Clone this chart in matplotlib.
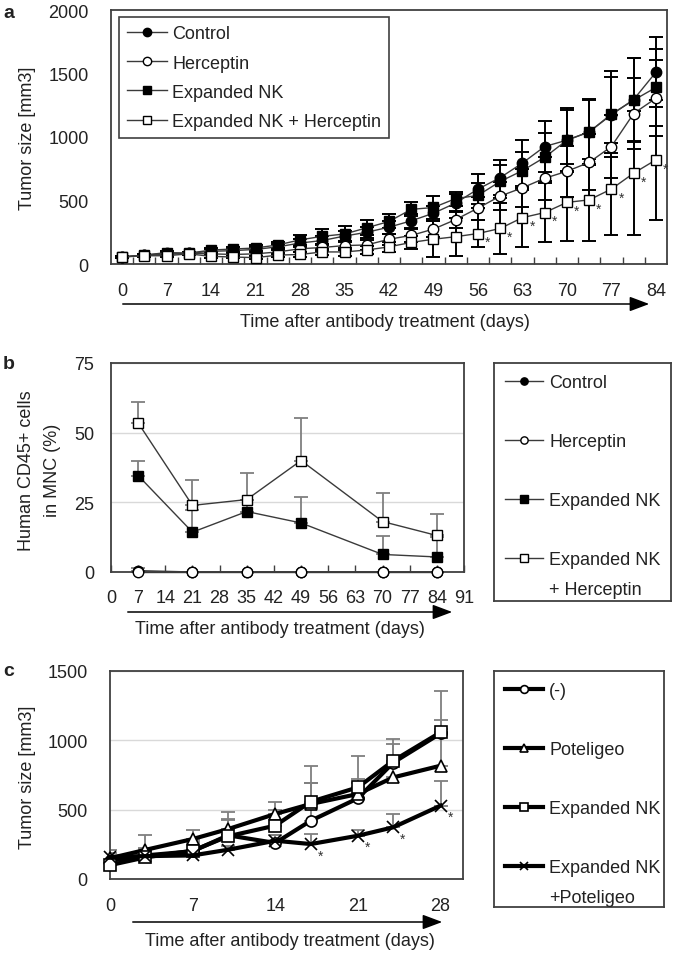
import numpy as np
import matplotlib
matplotlib.use('Agg')
import matplotlib.pyplot as plt

plt.rcParams['font.family'] = ['Liberation Sans', 'DejaVu Sans']
plt.rcParams['font.size'] = 13
plt.rcParams['text.color'] = '#222222'
plt.rcParams['xtick.color'] = '#222222'
plt.rcParams['ytick.color'] = '#222222'
plt.rcParams['axes.labelcolor'] = '#222222'

# ---- panel a: tumor size, Herceptin study ----
days_a = [0, 3.5, 7, 10.5, 14, 17.5, 21, 24.5, 28, 31.5, 35, 38.5, 42, 45.5,
          49, 52.5, 56, 59.5, 63, 66.5, 70, 73.5, 77, 80.5, 84]
ctrl_a = [55, 70, 90, 85, 100, 105, 115, 135, 165, 185, 220, 250, 290, 340,
          400, 480, 590, 680, 795, 925, 975, 1040, 1175, 1295, 1510]
herc_a = [55, 70, 75, 85, 80, 75, 80, 95, 120, 130, 145, 150, 195, 225,
          275, 350, 440, 535, 600, 675, 730, 800, 925, 1185, 1305]
nk_a = [55, 70, 85, 85, 110, 118, 126, 150, 190, 218, 236, 285, 335, 430,
        445, 515, 540, 650, 735, 840, 975, 1040, 1180, 1290, 1390]
nkh_a = [55, 65, 65, 80, 60, 55, 50, 70, 75, 95, 95, 110, 135, 170,
         195, 215, 240, 280, 365, 405, 485, 505, 590, 715, 820]
ctrl_err_a = [10, 10, 10, 10, 15, 15, 20, 25, 30, 35, 40, 45, 50, 55,
              60, 70, 120, 140, 180, 200, 250, 260, 300, 330, 275]
herc_err_a = [10, 10, 10, 10, 10, 10, 15, 20, 25, 30, 35, 40, 45, 50,
              60, 70, 90, 110, 150, 170, 200, 220, 250, 280, 300]
nk_err_a = [10, 10, 10, 10, 15, 15, 20, 25, 40, 60, 65, 60, 55, 55,
            90, 55, 100, 130, 150, 190, 240, 250, 340, 330, 300]
nkh_err_a = [10, 10, 10, 10, 10, 10, 10, 15, 20, 25, 30, 35, 40, 50,
             140, 150, 110, 200, 230, 230, 300, 320, 360, 490, 470]
star_days_a = [56, 59.5, 63, 66.5, 70, 73.5, 77, 80.5, 84]
labels_a = ['Control', 'Herceptin', 'Expanded NK', 'Expanded NK + Herceptin']

# ---- panel b: human CD45+ cells ----
days_b = [7, 21, 35, 49, 70, 84]
ctrl_b = [0.5, 0, 0, 0, 0, 0]
herc_b = [0, 0, 0, 0, 0, 0]
nk_b = [34.6, 14.3, 21.7, 17.6, 6.3, 5.4]
nkh_b = [53.5, 23.9, 26.0, 40.0, 18.1, 13.1]
ctrl_err_b = [1.0, 0, 0, 0, 0, 0]
herc_err_b = [0, 0, 0, 0, 0, 0]
nk_err_b = [5.2, 8, 4, 9.4, 6.5, 7]
nkh_err_b = [7.4, 9, 9.6, 15.3, 10.2, 7.8]
labels_b = ['Control', 'Herceptin', 'Expanded NK', 'Expanded NK']

# ---- panel c: tumor size, Poteligeo study ----
days_c = [0, 3, 7, 10, 14, 17, 21, 24, 28]
neg_c = [130, 170, 200, 315, 260, 420, 582, 840, 1050]
pot_c = [150, 210, 288, 360, 469, 541, 613, 733, 817]
nk_c = [100, 156, 204, 308, 385, 557, 661, 853, 1058]
nkp_c = [160, 165, 170, 211, 276, 252, 312, 373, 529]
neg_err_c = [30, 50, 60, 110, 60, 272, 140, 130, 30]
pot_err_c = [40, 107, 68, 125, 88, 150, 80, 100, 330]
nk_err_c = [30, 60, 70, 125, 110, 260, 224, 156, 300]
nkp_err_c = [50, 40, 40, 30, 40, 72, 44, 96, 180]
star_days_c = [17, 21, 24, 28]
labels_c = ['(-)', 'Poteligeo', 'Expanded NK', 'Expanded NK']

W, H = 675, 954
fig = plt.figure(figsize=(W / 100, H / 100), dpi=100)
SP = '#404040'


def px_axes(l, t, r, b):
    return fig.add_axes([l / W, 1 - b / H, (r - l) / W, (b - t) / H])


def frame(ax):
    for s in ax.spines.values():
        s.set_color(SP)
        s.set_linewidth(1.3)


def arrow(x0, x1, y):
    fig.add_artist(matplotlib.patches.FancyArrowPatch(
        (x0 / W, 1 - y / H), (x1 / W, 1 - y / H), transform=fig.transFigure,
        arrowstyle='-|>,head_length=0.8,head_width=0.3', mutation_scale=15,
        color='black', lw=1.1))


# ================= panel a =================
ax = px_axes(111, 11, 667, 265)
frame(ax)
series_a = [(ctrl_a, ctrl_err_a, 'o', 'black'), (herc_a, herc_err_a, 'o', 'white'),
            (nk_a, nk_err_a, 's', 'black'), (nkh_a, nkh_err_a, 's', 'white')]
for vals, err, mk, fc in series_a:
    ax.errorbar(days_a, vals, yerr=err, fmt='none', ecolor='black',
                elinewidth=1.4, capsize=5, capthick=1.4, zorder=2)
for (vals, err, mk, fc), lab in zip(series_a, labels_a):
    ax.plot(days_a, vals, color='#3a3a3a', lw=1, marker=mk, ms=7.5,
            mfc=fc, mec='black', mew=1, zorder=3, label=lab)
for d in star_days_a:
    ax.annotate('*', xy=(d, nkh_a[days_a.index(d)]), xytext=(5, -9),
                textcoords='offset points', fontsize=10, color='#333333')
ax.set_xlim(-1.75, 85.75)
ax.set_ylim(0, 2000)
ax.set_xticks(range(0, 85, 7))
mids = [(days_a[i] + days_a[i + 1]) / 2 for i in range(len(days_a) - 1)]
ax.set_xticks(mids, minor=True)
ax.set_yticks(range(0, 2001, 500))
ax.tick_params(axis='x', which='major', length=0, pad=13)
ax.tick_params(axis='x', which='minor', direction='in', length=5, width=1, color=SP)
ax.tick_params(axis='y', length=0, pad=16)
ax.set_ylabel('Tumor size [mm3]')
ax.yaxis.set_label_coords(-0.135, 0.5)
leg = ax.legend(loc='upper left', bbox_to_anchor=(0.0144, 0.972), borderaxespad=0,
                fancybox=False, edgecolor=SP, framealpha=1, labelspacing=0.68,
                handlelength=2.2, handletextpad=0.3, borderpad=0.45, markerscale=0.8)
leg.get_frame().set_linewidth(1.2)
arrow(120, 652, 305)
fig.text(385 / W, 1 - 323 / H, 'Time after antibody treatment (days)', ha='center', va='center')
fig.text(9 / W, 1 - 13 / H, 'a', fontweight='bold', fontsize=14, ha='center', va='center')

# ================= panel b =================
ax = px_axes(111, 364, 464, 573)
frame(ax)
ax.yaxis.grid(True, color='#d9d9d9', lw=1)
ax.set_axisbelow(True)
series_b = [(ctrl_b, ctrl_err_b, 'o', 'black'), (herc_b, herc_err_b, 'o', 'white'),
            (nk_b, nk_err_b, 's', 'black'), (nkh_b, nkh_err_b, 's', 'white')]
handles_b = []
for vals, err, mk, fc in series_b:
    ax.errorbar(days_b, vals, yerr=[np.zeros(len(err)), err], fmt='none',
                ecolor='#7f7f7f', elinewidth=1.3, capsize=5, capthick=1.3, zorder=2)
    h, = ax.plot(days_b, vals, color='#3a3a3a', lw=1, marker=mk, ms=7.5,
                 mfc=fc, mec='black', mew=1, zorder=3, clip_on=False)
    handles_b.append(h)
ax.set_xlim(0, 91)
ax.set_ylim(0, 75)
ax.set_xticks(range(0, 92, 7))
ax.set_yticks([0, 25, 50, 75])
ax.tick_params(axis='x', direction='in', length=5, width=1, color=SP, pad=12)
ax.tick_params(axis='y', length=0, pad=12)
ax.set_ylabel('Human CD45+ cells\nin MNC (%)', linespacing=1.65)
ax.yaxis.set_label_coords(-0.142, 0.49)
arrow(125, 455, 613)
fig.text(280 / W, 1 - 630 / H, 'Time after antibody treatment (days)', ha='center', va='center')
fig.text(9 / W, 1 - 365 / H, 'b', fontweight='bold', fontsize=14, ha='center', va='center')

lax_b = px_axes(494, 364, 671, 602)
frame(lax_b)
lax_b.set_xticks([])
lax_b.set_yticks([])
leg_b = lax_b.legend(handles_b, labels_b, loc='upper left', bbox_to_anchor=(0, 1),
                     frameon=False, borderaxespad=0, borderpad=0.62, labelspacing=2.33,
                     handlelength=2.1, handletextpad=0.33, markerscale=0.7)

# ================= panel c =================
ax = px_axes(110, 672, 463, 880)
frame(ax)
ax.yaxis.grid(True, color='#d9d9d9', lw=1)
ax.set_axisbelow(True)
series_c = [(neg_c, neg_err_c, 'o', 8), (pot_c, pot_err_c, '^', 8),
            (nk_c, nk_err_c, 's', 8.5), (nkp_c, nkp_err_c, 'x', 9)]
handles_c = []
for vals, err, mk, ms in series_c:
    ax.errorbar(days_c, vals, yerr=[np.zeros(len(err)), err], fmt='none',
                ecolor='#7f7f7f', elinewidth=1.3, capsize=5, capthick=1.3, zorder=2)
for vals, err, mk, ms in series_c:
    h, = ax.plot(days_c, vals, color='black', lw=3, marker=mk, ms=ms,
                 mfc='white', mec='black', mew=1.2, zorder=3, clip_on=False)
    handles_c.append(h)
for d in star_days_c:
    ax.annotate('*', xy=(d, nkp_c[days_c.index(d)]), xytext=(5, -11),
                textcoords='offset points', fontsize=10, color='#333333')
ax.set_xlim(0, 29.9)
ax.set_ylim(0, 1500)
ax.set_xticks(range(0, 29, 7))
ax.set_yticks(range(0, 1501, 500))
ax.tick_params(axis='x', length=0, pad=13)
ax.tick_params(axis='y', length=0, pad=16)
ax.set_ylabel('Tumor size [mm3]')
ax.yaxis.set_label_coords(-0.21, 0.495)
arrow(130, 445, 923)
fig.text(290 / W, 1 - 942 / H, 'Time after antibody treatment (days)', ha='center', va='center')
fig.text(9 / W, 1 - 672 / H, 'c', fontweight='bold', fontsize=14, ha='center', va='center')

lax_c = px_axes(494, 672, 664, 908)
frame(lax_c)
lax_c.set_xticks([])
lax_c.set_yticks([])
leg_c = lax_c.legend(handles_c, labels_c, loc='upper left', bbox_to_anchor=(0, 1),
                     frameon=False, borderaxespad=0, borderpad=0.62, labelspacing=2.33,
                     handlelength=2.1, handletextpad=0.33, markerscale=0.7)

# second lines of the two-line legend labels
fig.canvas.draw()
for lg, extra in [(leg_b, '+ Herceptin'), (leg_c, '+Poteligeo')]:
    bb = lg.get_texts()[-1].get_window_extent()
    fig.text(bb.x0 / W, ((bb.y0 + bb.y1) / 2 - 30) / H, extra, ha='left', va='center')

fig.savefig('out.png', dpi=100)
